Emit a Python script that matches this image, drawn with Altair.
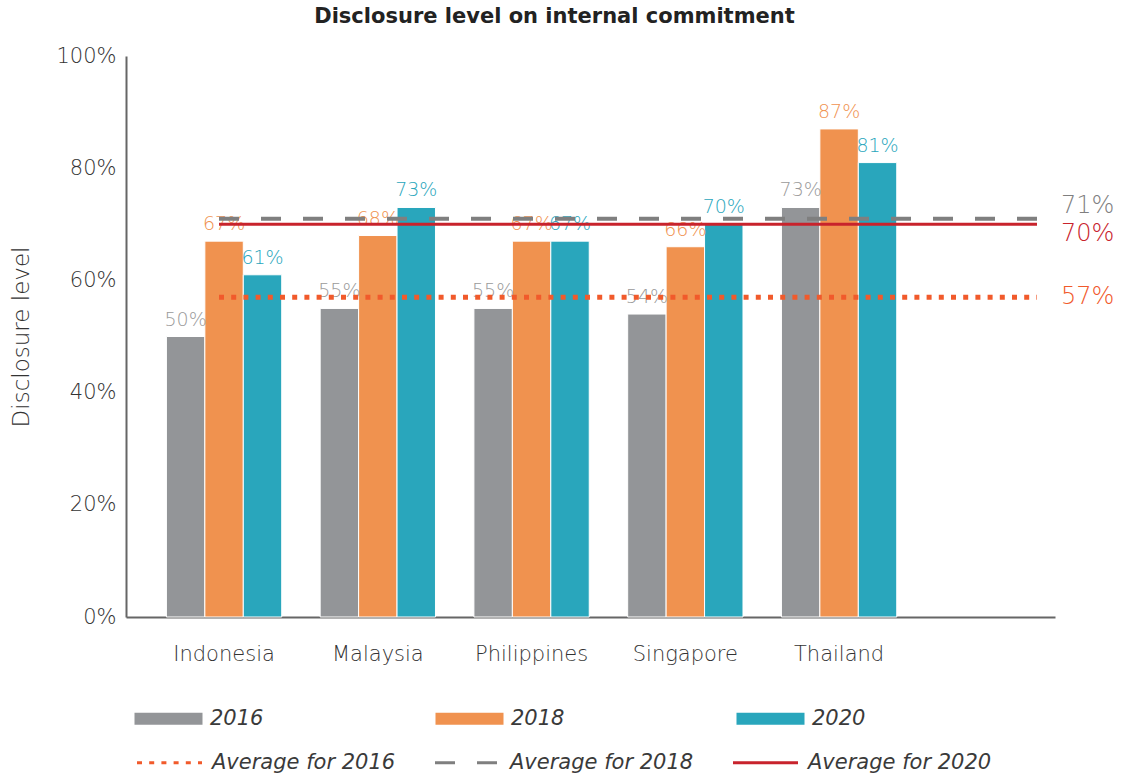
import altair as alt
import pandas as pd

# ---------------- data ----------------
countries = ["Indonesia", "Malaysia", "Philippines", "Singapore", "Thailand"]
years = ["2016", "2018", "2020"]
values_2016 = [50, 55, 55, 54, 73]
values_2018 = [67, 68, 67, 66, 87]
values_2020 = [61, 73, 67, 70, 81]
avg_names = ["Average for 2016", "Average for 2018", "Average for 2020"]
avg_values = [57, 71, 70]
y_ticks = [0, 20, 40, 60, 80, 100]

# ---------------- styles ----------------
bar_colors = ["#939598", "#F0924F", "#29A6BC"]
avg_colors = ["#F15A2B", "#7F7F7F", "#C8232C"]
avg_dashes = [[5, 7.2], [20, 22], [1, 0]]
avg_widths = [5, 3, 3]
FONT = "DejaVu Sans"
LIGHT = 200
TEXT = "#333333"

rows = []
for yr, vals in zip(years, [values_2016, values_2018, values_2020]):
    for c, v in zip(countries, vals):
        rows.append({"country": c, "year": yr, "value": v, "label": f"{v}%"})
bars_df = pd.DataFrame(rows)
avg_df = pd.DataFrame({"series": avg_names, "value": avg_values,
                       "label": [f"{v}%" for v in avg_values]})

x_domain = countries + [" "]
xscale = alt.Scale(domain=x_domain, paddingInner=0.25, paddingOuter=0.146, align=0.9)
yscale = alt.Scale(domain=[0, 100], nice=False)

x_enc = alt.X("country:N", scale=xscale, sort=x_domain,
              axis=alt.Axis(title=None, labelAngle=0, ticks=False, domainColor="#666666",
                            domainWidth=2, labelFontSize=21, labelPadding=26,
                            labelColor=TEXT, labelFont=FONT, labelFontWeight=LIGHT))
y_enc = alt.Y("value:Q", scale=yscale,
              axis=alt.Axis(title="Disclosure level", values=y_ticks, grid=False, ticks=False,
                            labelExpr="datum.value + '%'", domainColor="#666666", domainWidth=2,
                            labelFontSize=21, labelPadding=10, labelColor=TEXT, labelFont=FONT,
                            labelFontWeight=LIGHT, titleFont=FONT, titleFontSize=23,
                            titleFontWeight=LIGHT, titleColor=TEXT, titlePadding=22))

legend_common = dict(title=None, orient="none", direction="horizontal", columns=3,
                     symbolSize=400, labelFontSize=21, labelFontStyle="italic", labelFont=FONT,
                     labelFontWeight=LIGHT, labelColor="#3A3A3A", labelOffset=31, legendX=32,
                     labelLimit=400)

bar_color = alt.Color("year:N", scale=alt.Scale(domain=years, range=bar_colors),
                      legend=alt.Legend(legendY=652,
                                        symbolType="M-3.4,-0.6L3.4,-0.6L3.4,0.6L-3.4,0.6Z",
                                        symbolStrokeWidth=0, symbolOpacity=1,
                                        columnPadding=171, **legend_common))

bars = alt.Chart(bars_df).mark_bar(stroke="white", strokeWidth=1).encode(
    x=x_enc, y=y_enc,
    xOffset=alt.XOffset("year:N", scale=alt.Scale(domain=years, paddingInner=0, paddingOuter=0)),
    color=bar_color,
)

bar_labels = alt.Chart(bars_df).mark_text(baseline="bottom", dy=-7, fontSize=19, font=FONT,
                                          fontWeight=LIGHT).encode(
    x=alt.X("country:N", scale=xscale, sort=x_domain),
    xOffset=alt.XOffset("year:N", scale=alt.Scale(domain=years, paddingInner=0, paddingOuter=0)),
    y=alt.Y("value:Q", scale=yscale),
    text="label:N",
    color=alt.Color("year:N", scale=alt.Scale(domain=years, range=["#9A9A9A", "#F0924F", "#29A6BC"]),
                    legend=None),
)

line_legend = alt.Legend(legendY=695, symbolType="M-3.25,0L3.25,0", symbolStrokeWidth=3,
                         columnPadding=33, **legend_common)

rules = alt.Chart(avg_df).mark_rule().encode(
    x=alt.value(93), x2=alt.value(911),
    y=alt.Y("value:Q", scale=yscale),
    color=alt.Color("series:N", scale=alt.Scale(domain=avg_names, range=avg_colors),
                    legend=line_legend),
    strokeDash=alt.StrokeDash("series:N", scale=alt.Scale(domain=avg_names, range=avg_dashes),
                              legend=line_legend),
    strokeWidth=alt.StrokeWidth("series:N", scale=alt.Scale(domain=avg_names, range=avg_widths),
                                legend=None),
)

label_offsets = {"Average for 2016": 0, "Average for 2018": -13, "Average for 2020": 10}
avg_text_layers = []
for name, off in label_offsets.items():
    avg_text_layers.append(
        alt.Chart(avg_df).transform_filter(alt.datum.series == name)
        .mark_text(align="left", baseline="middle", dy=off, fontSize=24, font=FONT,
                   fontWeight=LIGHT)
        .encode(
            x=alt.value(935),
            y=alt.Y("value:Q", scale=yscale),
            text="label:N",
            color=alt.Color("series:N", scale=alt.Scale(domain=avg_names, range=avg_colors),
                            legend=None),
        )
    )

chart = alt.layer(bars, bar_labels, rules, *avg_text_layers).resolve_scale(
    color="independent", strokeDash="independent"
).properties(
    width=929, height=561,
    title=alt.TitleParams("Disclosure level on internal commitment", fontSize=21,
                          fontWeight="bold", font=FONT, color="#222222", anchor="middle",
                          dx=-36, offset=18),
    padding={"left": 10, "top": 6, "right": 4, "bottom": 4},
).configure_view(stroke=None)

chart.save("out.html", embed_options={"renderer": "svg", "actions": False})
